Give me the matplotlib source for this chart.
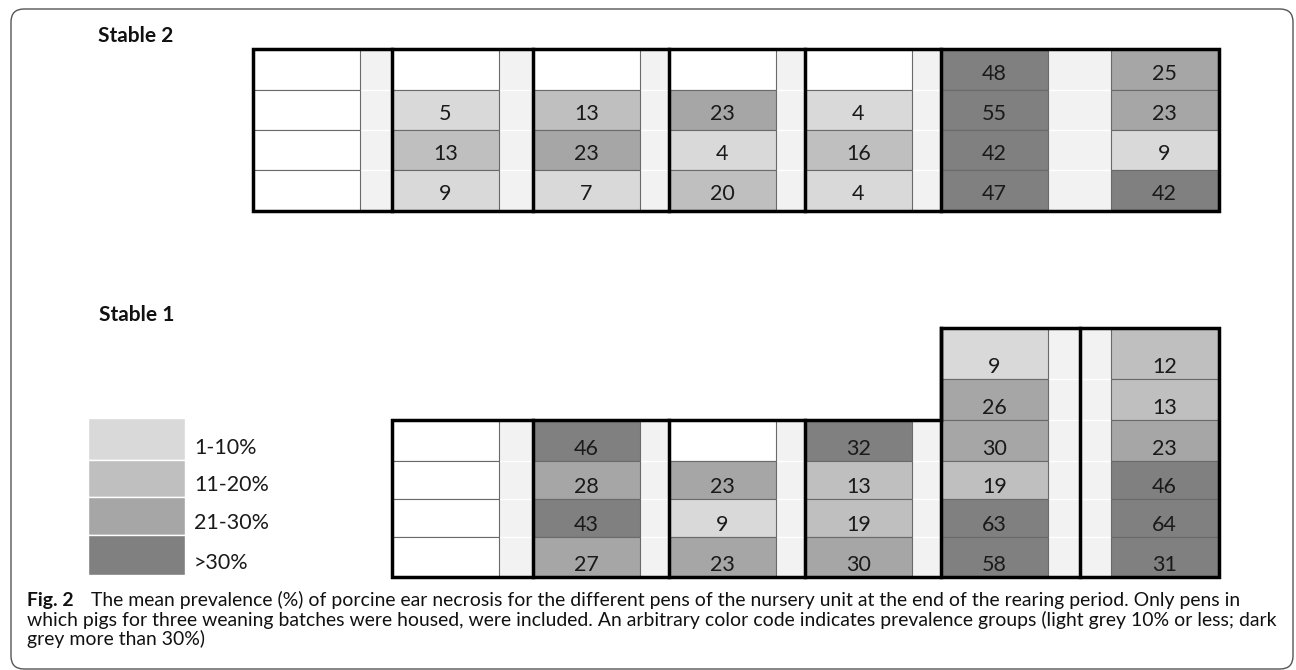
import matplotlib
matplotlib.use("Agg")
import matplotlib.pyplot as plt
from matplotlib.patches import Rectangle, FancyBboxPatch, Polygon

# ---------------- data ----------------
levels = ["1-10%", "11-20%", "21-30%", ">30%"]
level_colors = ["#d9d9d9", "#bfbfbf", "#a6a6a6", "#808080"]
level_upper = [10, 20, 30, 1000]

# pens left to right, rows top to bottom (None = no value)
stable2_pens = [
    [None, None, None, None],
    [None, 5, 13, 9],
    [None, 13, 23, 7],
    [None, 23, 4, 20],
    [None, 4, 16, 4],
    [48, 55, 42, 47],
    [25, 23, 9, 42],
]
stable1_pens = [
    [None, None, None, None],
    [46, 28, 43, 27],
    [None, 23, 9, 23],
    [32, 13, 19, 30],
    [9, 26, 30, 19, 63, 58],
    [12, 13, 23, 46, 64, 31],
]
stable_titles = ["Stable 2", "Stable 1"]
caption_bold = "Fig. 2"
caption_lines = [
    "The mean prevalence (%) of porcine ear necrosis for the different pens of the nursery unit at the end of the rearing period. Only pens in",
    "which pigs for three weaning batches were housed, were included. An arbitrary color code indicates prevalence groups (light grey 10% or less; dark",
    "grey more than 30%)",
]

# ---------------- layout (pixel coordinates) ----------------
W, H = 1296, 670
FONT = "Lato"
STRIP = "#f2f2f2"
THICK = 2.5
CELL_W = 107
RIGHT = 1219
NUM_SIZE = 15.5


def color_for(v):
    if v is None:
        return "white"
    for up, c in zip(level_upper, level_colors):
        if v <= up:
            return c
    return level_colors[-1]


fig = plt.figure(figsize=(W / 100, H / 100), dpi=100)
ax = fig.add_axes([0, 0, 1, 1])
ax.set_xlim(0, W)
ax.set_ylim(H, 0)
ax.axis("off")

# frame
ax.add_patch(FancyBboxPatch((11, 9), 1282, 660, boxstyle="round,pad=0,rounding_size=13",
                            fc="none", ec="#555555", lw=1.0, zorder=1))


def draw_pen(x, rows, values, base_mode):
    for i, v in enumerate(values):
        top, bot = rows[i], rows[i + 1]
        ax.add_patch(Rectangle((x, top), CELL_W, bot - top, fc=color_for(v),
                               ec="#6a6a6a", lw=0.8, zorder=2))
        if v is not None:
            if base_mode == "center":
                yb = (top + bot) / 2 + 10
            else:
                yb = bot - 6
            ax.text(x + CELL_W / 2, yb, str(v), ha="center", va="baseline",
                    fontsize=NUM_SIZE, family=FONT, color="#1a1a1a", zorder=4)


def draw_strip(x0, x1, rows):
    ax.add_patch(Rectangle((x0, rows[0]), x1 - x0, rows[-1] - rows[0], fc=STRIP,
                           ec="none", zorder=1.5))
    for r in rows[1:-1]:
        ax.plot([x0, x1], [r, r], color="white", lw=1.0, zorder=1.6)


# ---- Stable 2 ----
s2_x = [253, 392, 533, 669, 805, 941, 1111]
s2_rows = [49, 90, 130, 170, 211]
for k, vals in enumerate(stable2_pens):
    x = s2_x[k]
    if k < len(s2_x) - 1:
        draw_strip(x + CELL_W, s2_x[k + 1], s2_rows)
    draw_pen(x, s2_rows, vals, "center")
for xl in s2_x[1:6]:
    ax.plot([xl, xl], [s2_rows[0], s2_rows[-1]], color="black", lw=THICK, zorder=5)
ax.add_patch(Rectangle((s2_x[0], s2_rows[0]), RIGHT - s2_x[0], s2_rows[-1] - s2_rows[0],
                       fc="none", ec="black", lw=THICK, zorder=5))

# ---- Stable 1 ----
s1_x = [392, 533, 669, 805, 941, 1111]
s1_rows_low = [420, 461, 499, 537, 577]
s1_rows_tall = [328, 379] + s1_rows_low
for k, vals in enumerate(stable1_pens):
    x = s1_x[k]
    rows = s1_rows_tall if len(vals) == 6 else s1_rows_low
    if k < len(s1_x) - 1:
        draw_strip(x + CELL_W, s1_x[k + 1], rows)
    draw_pen(x, rows, vals, "bottom")
for xl in s1_x[1:4]:
    ax.plot([xl, xl], [s1_rows_low[0], s1_rows_low[-1]], color="black", lw=THICK, zorder=5)
for xl in [941, 1080]:
    ax.plot([xl, xl], [s1_rows_tall[0], s1_rows_tall[-1]], color="black", lw=THICK, zorder=5)
outline = [(392, 420), (941, 420), (941, 328), (RIGHT, 328), (RIGHT, 577), (392, 577)]
ax.add_patch(Polygon(outline, closed=True, fc="none", ec="black", lw=THICK,
                     joinstyle="miter", zorder=5))

# titles
ax.text(98, 42, stable_titles[0], fontsize=15, fontweight="bold", family=FONT,
        ha="left", va="baseline", color="#111111")
ax.text(99, 321, stable_titles[1], fontsize=15, fontweight="bold", family=FONT,
        ha="left", va="baseline", color="#111111")

# legend
leg_rows = [418, 460, 497, 535, 575]
for i, (lab, c) in enumerate(zip(levels, level_colors)):
    top, bot = leg_rows[i], leg_rows[i + 1]
    ax.add_patch(Rectangle((88, top), 97, bot - top, fc=c, ec="white", lw=1.0, zorder=2))
    ax.text(194, bot - 6, lab, fontsize=NUM_SIZE, family=FONT, ha="left", va="baseline",
            color="#1a1a1a")

# caption: fit font size so line 2 spans its reference width
fig.canvas.draw()
renderer = fig.canvas.get_renderer()
probe = ax.text(27, 626, caption_lines[1], fontsize=12, family=FONT, ha="left", va="baseline")
bb = probe.get_window_extent(renderer)
cap_size = 12 * (1273 - 27) / bb.width
probe.remove()

ax.text(27, 606, caption_bold, fontsize=cap_size, fontweight="bold", family=FONT,
        ha="left", va="baseline", color="#111111")
ax.text(91, 606, caption_lines[0], fontsize=cap_size, family=FONT, ha="left",
        va="baseline", color="#111111")
ax.text(27, 626, caption_lines[1], fontsize=cap_size, family=FONT, ha="left",
        va="baseline", color="#111111")
ax.text(27, 645, caption_lines[2], fontsize=cap_size, family=FONT, ha="left",
        va="baseline", color="#111111")

fig.savefig("out.png", dpi=100)
